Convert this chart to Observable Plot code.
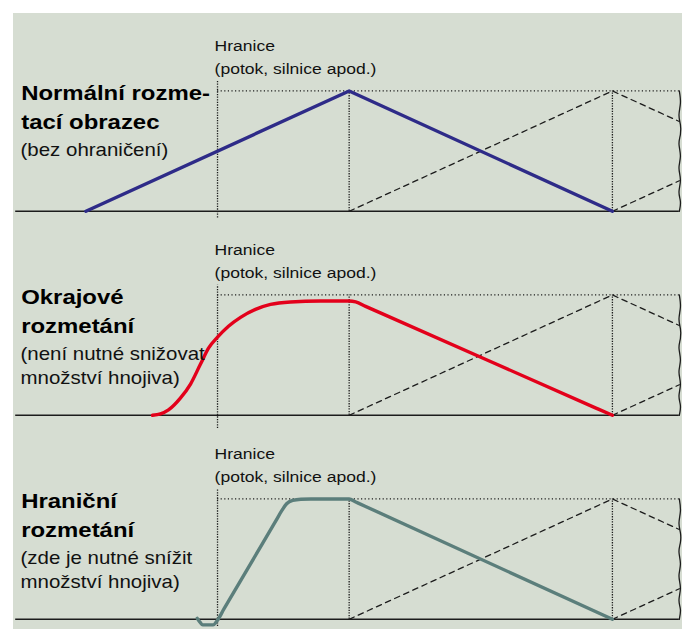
<!DOCTYPE html>
<html>
<head>
<meta charset="utf-8">
<script src="https://cdn.jsdelivr.net/npm/d3@7"></script>
<script src="https://cdn.jsdelivr.net/npm/@observablehq/plot@0.6"></script>
<style>
  html, body { margin: 0; padding: 0; background: #ffffff; }
  #chart { position: absolute; left: 13px; top: 13px; }
</style>
</head>
<body>
<div id="chart"></div>
<script>
// ---- Data (distance in m from the field boundary; application rate in % of target) ----
const panels = ["normal", "okrajove", "hranicni"];
const boundaryLabel = ["Hranice", "(potok, silnice apod.)"];
const titles = [["Normální rozme-", "tací obrazec"], ["Okrajové", "rozmetání"], ["Hraniční", "rozmetání"]];
const notes = [["(bez ohraničení)"], ["(není nutné snižovat", "množství hnojiva)"], ["(zde je nutné snížit", "množství hnojiva)"]];
const colors = ["#2e2b88", "#e3001b", "#5b7e7b"];

// normal spreading pattern (triangle)
const normalX = [-12, 12, 36];
const normalY = [0, 100, 0];
// edge spreading (Okrajové rozmetání)
const edgeX = [-5.93, -5.2, -4.47, -3.37, -2.46, -1.55, -0.82, 0, 1.0, 2.1, 3.46, 4.83, 6.65, 9.4, 12.0, 12.6, 13.5, 15, 34.5, 36];
const edgeY = [0, 1.2, 4.5, 14.5, 26, 42.6, 55.8, 64.9, 74, 81.4, 88, 92.1, 94.2, 95, 95, 94.2, 90.5, 84.5, 6, 0];
// border spreading (Hraniční rozmetání)
const borderX = [-1.85, -1.6, -1.35, -0.4, -0.1, 0.6, 5.3, 5.9, 6.3, 6.85, 7.6, 8.5, 12, 12.6, 13.5, 34.5, 36];
const borderY = [0.8, -2.4, -4.6, -4.6, -2, 8.8, 81.6, 90.9, 96, 98.8, 99.8, 100, 100, 97.5, 93.75, 6.25, 0];

// neighbouring passes (dashed)
const pass2X = [12, 36, 42.1];
const pass2Y = [0, 100, 74.6];
const pass3X = [36, 42.1];
const pass3Y = [0, 25.4];

const tramlines = [12, 36];
const boundaryX = 0;
const fieldStart = -18.4;
const fieldEnd = 42.1;
const boundaryTop = 108;
const boundaryBottom = [-5.5, -11, -6];
// break symbol at right edge
const waveY = [100, 90, 80, 72, 64, 56, 46, 36, 26, 16, 8, 0];
const waveDx = [0, 0.1, -0.03, 0.1, 0.1, -0.03, 0.1, -0.03, 0.1, -0.03, 0.1, 0];

// ---- Build tables ----
const profileRows = (xs, ys, p) => xs.map((x, i) => ({panel: p, x, y: ys[i]}));
const blueRows = profileRows(normalX, normalY, panels[0]);
const curvedRows = [
  ...profileRows(edgeX, edgeY, panels[1]),
  ...profileRows(borderX, borderY, panels[2])
];
const dashedRows = panels.flatMap(p => [
  ...pass2X.map((x, i) => ({panel: p, seg: "a", x, y: pass2Y[i]})),
  ...pass3X.map((x, i) => ({panel: p, seg: "b", x, y: pass3Y[i]}))
]);
const waveRows = panels.flatMap(p => waveY.map((y, i) => ({panel: p, x: fieldEnd + waveDx[i], y})));
const tramRows = panels.flatMap(p => tramlines.map(x => ({panel: p, x})));
const boundaryRows = panels.map((p, k) => ({panel: p, bottom: boundaryBottom[k]}));
const hraniceRows = panels.flatMap(p => boundaryLabel.map((text, line) => ({panel: p, text, line})));
const titleRows = panels.flatMap((p, k) => titles[k].map((text, line) => ({panel: p, text, line})));
const noteRows = panels.flatMap((p, k) => notes[k].map((text, line) => ({panel: p, text, line})));

const chart = Plot.plot({
  width: 669,
  height: 616,
  marginTop: 2,
  marginBottom: 1.4,
  marginLeft: 0,
  marginRight: 0,
  x: {domain: [-18.6, 42.39], axis: null},
  y: {domain: [-6.8, 162.7], axis: null},
  fy: {domain: panels, axis: null, padding: 0},
  color: {domain: panels, range: colors},
  style: {background: "#d6ddd2", fontFamily: "'Liberation Sans', Arial, Helvetica, sans-serif", overflow: "visible"},
  marks: [
    // baseline
    Plot.ruleY(panels, {fy: d => d, y: () => 0, x1: () => fieldStart, x2: () => fieldEnd, stroke: "#1c1c1c", strokeWidth: 1.6}),
    // top dotted reference (100 %)
    Plot.ruleY(panels, {fy: d => d, y: () => 100, x1: () => boundaryX, x2: () => fieldEnd, stroke: "#1c1c1c", strokeWidth: 1.2, strokeDasharray: "1.2,2.4"}),
    // boundary
    Plot.ruleX(boundaryRows, {fy: "panel", x: () => boundaryX, y1: "bottom", y2: () => boundaryTop, stroke: "#1c1c1c", strokeWidth: 1.3, strokeDasharray: "1.3,1.3"}),
    // tramlines
    Plot.ruleX(tramRows, {fy: "panel", x: "x", y1: () => 0, y2: () => 100, stroke: "#1c1c1c", strokeWidth: 1.3, strokeDasharray: "1.3,1.3"}),
    // neighbouring passes
    Plot.line(dashedRows, {fy: "panel", x: "x", y: "y", z: "seg", stroke: "#1c1c1c", strokeWidth: 1.3, strokeDasharray: "5.5,4.5"}),
    // break symbol
    Plot.line(waveRows, {fy: "panel", x: "x", y: "y", curve: "natural", stroke: "#1c1c1c", strokeWidth: 1.3}),
    // spreading profiles
    Plot.line(blueRows, {fy: "panel", x: "x", y: "y", stroke: "panel", strokeWidth: 3.4, strokeLinejoin: "round", strokeLinecap: "round"}),
    Plot.line(curvedRows, {fy: "panel", x: "x", y: "y", z: "panel", stroke: "panel", curve: "monotone-x", strokeWidth: 3.4, strokeLinejoin: "round", strokeLinecap: "round"}),
    // labels
    Plot.text(hraniceRows, {fy: "panel", x: () => -0.27, y: d => 132.8 - d.line * 18.3, text: "text", textAnchor: "start", lineAnchor: "bottom", fontSize: 15, fill: "#111"}),
    Plot.text(titleRows, {fy: "panel", x: () => -17.9, y: d => 92.6 - d.line * 24, text: "text", textAnchor: "start", lineAnchor: "bottom", fontSize: 21, fontWeight: "bold", fill: "#000"}),
    Plot.text(noteRows, {fy: "panel", x: () => -17.96, y: d => 46 - d.line * 19.9, text: "text", textAnchor: "start", lineAnchor: "bottom", fontSize: 17.5, fill: "#111"})
  ]
});

// horizontally widen the lettering like the reference artwork
const stretch = [1.17, 1.14, 1.17];
chart.querySelectorAll("g[aria-label='text']").forEach((g, k) => {
  const s = stretch[k % 3];
  g.querySelectorAll("text").forEach(t => {
    const x = parseFloat(t.getAttribute("x")) || 0;
    const tr = t.getAttribute("transform") || "";
    t.setAttribute("transform", `${tr} translate(${x},0) scale(${s},1) translate(${-x},0)`);
  });
});

document.getElementById("chart").appendChild(chart);
</script>
</body>
</html>
